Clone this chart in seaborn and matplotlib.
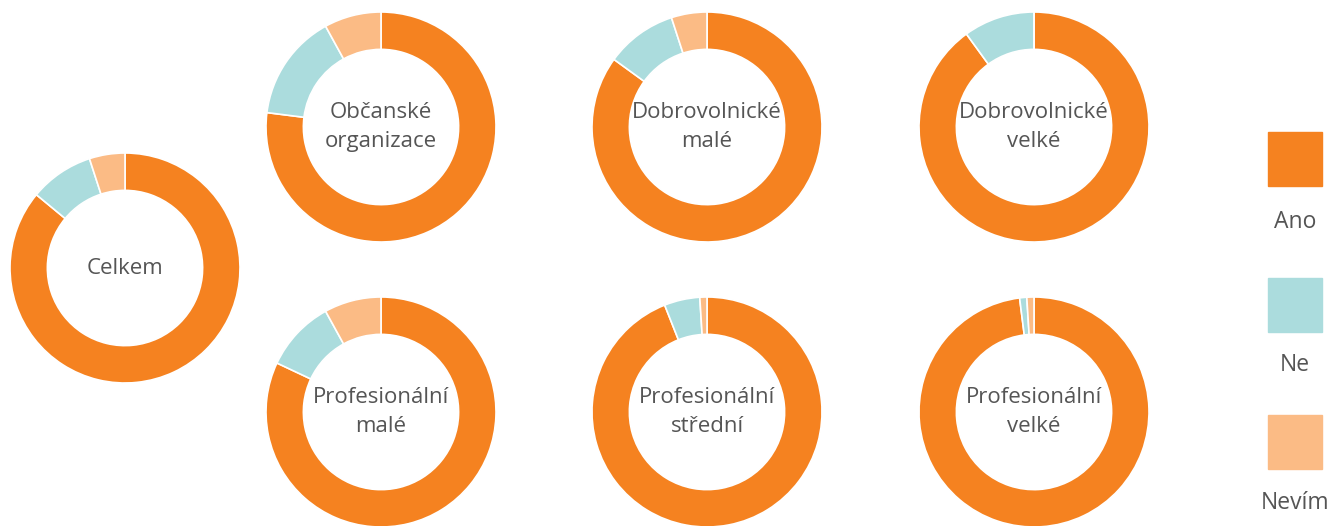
import matplotlib.pyplot as plt
import seaborn as sns
from matplotlib.patches import Rectangle

# data (percent)
categories = ["Ano", "Ne", "Nevím"]
groups = ["Celkem", "Občanské\norganizace", "Dobrovolnické\nmalé", "Dobrovolnické\nvelké",
          "Profesionální\nmalé", "Profesionální\nstřední", "Profesionální\nvelké"]
ano = [86, 77, 85, 90, 82, 94, 98]
ne = [9, 15, 10, 10, 10, 5, 1]
nevim = [5, 8, 5, 0, 8, 1, 1]

colors = ["#F58220", "#ABDCDD", "#FBBB85"]
text_color = "#555555"

sns.set_theme(style="white")
plt.rcParams["font.family"] = ["Open Sans", "DejaVu Sans"]

W, H = 1330, 526
fig = plt.figure(figsize=(W / 100, H / 100), dpi=100)

# donut centres in pixels (x, y from top)
centres = [(125, 268), (381, 127), (707, 127), (1034, 127),
           (381, 412), (707, 412), (1034, 412)]
R = 115

for i, name in enumerate(groups):
    cx, cy = centres[i]
    ax = fig.add_axes([(cx - R) / W, (H - cy - R) / H, 2 * R / W, 2 * R / H])
    vals = [ano[i], ne[i], nevim[i]]
    ax.pie(vals, colors=colors, startangle=90, counterclock=False, radius=1,
           wedgeprops=dict(width=0.325, edgecolor="white", linewidth=1.2))
    ax.set_xlim(-1, 1)
    ax.set_ylim(-1, 1)
    ax.set_aspect("equal")
    ax.axis("off")
    ax.text(0, 0, name, ha="center", va="center", fontsize=16, color=text_color,
            linespacing=1.5)

# legend: squares with labels underneath
lax = fig.add_axes([0, 0, 1, 1])
lax.set_xlim(0, W)
lax.set_ylim(H, 0)
lax.axis("off")
sq_tops = [132, 278, 415]
lab_y = [222, 365, 503]
for c, lab, top, ly in zip(colors, categories, sq_tops, lab_y):
    lax.add_patch(Rectangle((1268, top), 54, 54, color=c))
    lax.text(1295, ly, lab, ha="center", va="center", fontsize=16.5, color=text_color)

fig.savefig("out.png", dpi=100)
